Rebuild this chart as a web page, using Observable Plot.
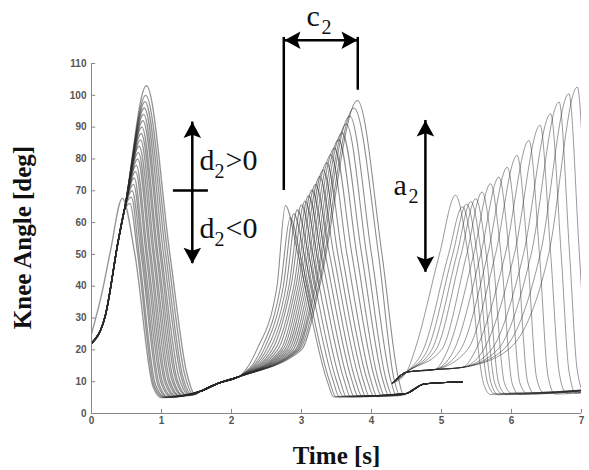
<!DOCTYPE html>
<html><head><meta charset="utf-8">
<script src="https://cdn.jsdelivr.net/npm/d3@7"></script>
<script src="https://cdn.jsdelivr.net/npm/@observablehq/plot@0.6"></script>
<style>body{margin:0;background:#fff} svg{display:block}</style>
</head><body><div id="chart"></div>
<script>
// ---- axes ----
const xTicks = [0, 1, 2, 3, 4, 5, 6, 7];
const yTicks = [0, 10, 20, 30, 40, 50, 60, 70, 80, 90, 100, 110];

// ---- cycle 1 (d2 family) ----
const c1SharedRise = [[0, 22], [0.2, 31], [0.38, 54], [0.47, 64]];
const c1OutlierRise = [[0, 25], [0.15, 38], [0.27, 51]];
const c1PeakT = [0.44, 0.55, 0.57, 0.58, 0.60, 0.61, 0.63, 0.64, 0.66, 0.67, 0.68, 0.70, 0.71, 0.72, 0.735, 0.745, 0.755, 0.765, 0.775, 0.785];
const c1PeakY = [67.6, 66, 68, 70, 72, 74, 76, 78, 80, 82, 84, 86, 88, 90, 92, 94, 96, 98, 100, 103];
const c1Down50T = [0.62, 0.66, 0.68, 0.71, 0.73, 0.75, 0.78, 0.80, 0.83, 0.85, 0.88, 0.90, 0.93, 0.95, 0.98, 1.00, 1.03, 1.06, 1.09, 1.12];
const c1EndT = [0.88, 0.90, 0.92, 0.95, 0.97, 1.00, 1.02, 1.05, 1.07, 1.10, 1.12, 1.15, 1.17, 1.20, 1.22, 1.25, 1.28, 1.30, 1.33, 1.36];
const c1EndY = [8.4, 8.4, 8.6, 8.8, 9.0, 9.2, 9.4, 9.6, 9.8, 10.0, 10.2, 10.4, 10.6, 10.8, 11.0, 11.3, 11.6, 12.0, 12.4, 12.8];
const c1BotT = [1.00, 1.03, 1.06, 1.08, 1.10, 1.13, 1.16, 1.19, 1.22, 1.25, 1.27, 1.30, 1.32, 1.35, 1.37, 1.40, 1.42, 1.44, 1.46, 1.48];
const c1BotY = [5.0, 5.1, 5.0, 5.2, 5.1, 5.3, 5.2, 5.4, 5.3, 5.5, 5.4, 5.6, 5.5, 5.7, 5.6, 5.8, 5.7, 5.9, 6.0, 6.0];
const stance12 = [[1.56, 7], [1.8, 9.4], [2.1, 11.5]];

// ---- cycle 2 (c2 family) ----
const c2Up20T = [2.36, 2.42, 2.46, 2.50, 2.54, 2.58, 2.62, 2.66, 2.70, 2.73, 2.76, 2.79, 2.82, 2.85, 2.88, 2.91, 2.93, 2.95, 2.97, 3.00];
const c2Up40T = [2.65, 2.70, 2.74, 2.78, 2.82, 2.85, 2.89, 2.92, 2.95, 2.98, 3.01, 3.04, 3.07, 3.10, 3.13, 3.16, 3.19, 3.21, 3.24, 3.26];
const c2PeakT = [2.77, 2.84, 2.89, 2.94, 3.00, 3.05, 3.10, 3.15, 3.20, 3.26, 3.31, 3.36, 3.42, 3.47, 3.53, 3.58, 3.64, 3.69, 3.75, 3.80];
const c2PeakY = [65.4, 61.6, 62.8, 64.0, 65.6, 66.8, 68.4, 70.2, 72.0, 74.5, 76.5, 78.8, 81.3, 83.4, 86.0, 88.2, 91.0, 93.5, 96.0, 98.4];
const c2Down50T = [2.95, 2.98, 3.04, 3.10, 3.16, 3.22, 3.28, 3.34, 3.40, 3.46, 3.52, 3.58, 3.65, 3.72, 3.79, 3.86, 3.93, 4.00, 4.10, 4.15];
const c2EndT = [3.37, 3.40, 3.45, 3.50, 3.55, 3.61, 3.66, 3.72, 3.77, 3.83, 3.88, 3.94, 3.99, 4.05, 4.10, 4.16, 4.21, 4.27, 4.32, 4.38];
const c2EndY = [10.0, 10.2, 10.4, 10.3, 10.5, 10.4, 10.6, 10.4, 10.5, 10.3, 10.6, 10.4, 10.5, 10.7, 10.4, 10.6, 10.5, 10.8, 11.0, 11.5];
const c2BotT = [3.46, 3.49, 3.54, 3.59, 3.64, 3.70, 3.75, 3.81, 3.86, 3.92, 3.97, 4.03, 4.08, 4.14, 4.19, 4.25, 4.30, 4.36, 4.41, 4.46];
const c2BotY = [5.2, 5.3, 5.2, 5.4, 5.3, 5.2, 5.4, 5.3, 5.5, 5.3, 5.4, 5.5, 5.3, 5.6, 5.4, 5.5, 5.6, 5.5, 5.7, 5.8];
const stance23 = [[4.5, 6.3], [4.75, 9.3], [5.3, 10]];

// ---- cycle 3 (a2 family) ----
const stance3 = [[4.3, 9.5], [4.5, 13], [4.9, 13.8], [5.3, 14.5]];
const c3Up20T = [4.62, 4.74, 4.80, 4.86, 4.92, 5.00, 5.09, 5.18, 5.27, 5.37, 5.49, 5.60, 5.71, 5.80, 5.88, 5.95];
const c3Up50T = [4.97, 5.10, 5.16, 5.22, 5.28, 5.36, 5.46, 5.56, 5.66, 5.77, 5.91, 6.04, 6.17, 6.28, 6.41, 6.53];
const c3PeakT = [5.20, 5.30, 5.36, 5.42, 5.49, 5.58, 5.70, 5.82, 5.94, 6.08, 6.25, 6.41, 6.56, 6.68, 6.82, 6.94];
const c3PeakY = [68.6, 65.0, 65.8, 66.6, 67.5, 69.6, 72.2, 74.3, 77.4, 81.1, 85.8, 90.6, 94.2, 97.9, 100.5, 102.6];
const c3Down50T = [5.38, 5.45, 5.51, 5.57, 5.64, 5.73, 5.85, 5.97, 6.09, 6.23, 6.40, 6.56, 6.71, 6.83, 6.97, 7.09];
const c3EndT = [5.60, 5.66, 5.71, 5.76, 5.82, 5.90, 6.01, 6.12, 6.23, 6.36, 6.52, 6.68, 6.82, 6.94, 7.08, 7.20];
const c3EndY = [9.5, 9.5, 9.4, 9.6, 9.3, 9.5, 9.4, 9.6, 10, 11, 12, 13, 13.5, 13.5, 13.5, 13.5];
const c3BotT = [5.70, 5.76, 5.81, 5.86, 5.92, 6.00, 6.11, 6.22, 6.33, 6.46, 6.62, 6.78, 6.92, 7.04, 7.18, 7.30];
const c3BotY = [6.0, 6.2, 5.9, 6.3, 6.1, 6.4, 6.0, 6.3, 6.2, 6.5, 6.1, 6.4, 6.3, 6.6, 6.4, 6.5];
const tail3 = [[7.4, 8]];

// ---- annotations (data units) ----
const vArrows = [{x: 1.44, y1: 47.1, y2: 91.6}, {x: 4.77, y1: 44.4, y2: 92.1}];
const d2Bar = [{x1: 1.17, x2: 1.67, y: 70.1}];
const c2Arrow = [{x1: 2.757, x2: 3.80, y: 117.3}];
const c2Legs = [{x: 2.747, y1: 70.1, y2: 118.2}, {x: 3.804, y1: 101.6, y2: 118.2}];
const labels = [
  {x: 1.543, y: 76.4, main: "d", sub: "2", rest: ">0"},
  {x: 1.543, y: 55.3, main: "d", sub: "2", rest: "<0"},
  {x: 3.07, y: 121.8, main: "c", sub: "2", rest: ""},
  {x: 4.314, y: 68.6, main: "a", sub: "2", rest: ""}
];

// ---- build curve tables ----
function table(cycle) { return []; }
const rows1 = [], rows2 = [], rows3 = [];
function addCurve(rows, id, pts) { for (const [x, y] of pts) rows.push({id, x, y}); }
c1PeakT.forEach((_, k) => {
  const rise = k === 0 ? c1OutlierRise : c1SharedRise;
  addCurve(rows1, "c1-" + k, [...rise, [c1PeakT[k], c1PeakY[k]], [c1Down50T[k], 50],
    [c1EndT[k], c1EndY[k]], [c1BotT[k], c1BotY[k]], ...stance12]);
});
c2PeakT.forEach((_, k) => {
  addCurve(rows2, "c2-" + k, [...stance12, [c2Up20T[k], 20], [c2Up40T[k], 40], [c2PeakT[k], c2PeakY[k]],
    [c2Down50T[k], 50], [c2EndT[k], c2EndY[k]], [c2BotT[k], c2BotY[k]], ...stance23]);
});
c3PeakT.forEach((_, k) => {
  const head = stance3.filter(p => p[0] < c3Up20T[k] - 0.1);
  addCurve(rows3, "c3-" + k, [...head, [c3Up20T[k], 20], [c3Up50T[k], 50], [c3PeakT[k], c3PeakY[k]],
    [c3Down50T[k], 50], [c3EndT[k], c3EndY[k]], [c3BotT[k], c3BotY[k]], ...tail3]);
});

// ---- arrowhead symbols (tip at origin) ----
function head(dx, dy) {
  return {draw(ctx, size) {
    const L = Math.sqrt(size / Math.PI), w = 0.55 * L, n = 0.8 * L;
    const bx = -dx, by = -dy, px = -by, py = bx;
    ctx.moveTo(0, 0);
    ctx.lineTo(bx * L + px * w, by * L + py * w);
    ctx.lineTo(bx * n, by * n);
    ctx.lineTo(bx * L - px * w, by * L - py * w);
    ctx.closePath();
  }};
}
const upHead = head(0, -1), downHead = head(0, 1), leftHead = head(-1, 0), rightHead = head(1, 0);

const serif = "'Liberation Serif', 'Times New Roman', serif";
const sans = "'Liberation Sans', Arial, sans-serif";
const lineOpts = {x: "x", y: "y", z: "id", curve: "monotone-x", stroke: "#2a2a2a", clip: true};

const chart = Plot.plot({
  width: 589, height: 470,
  marginLeft: 91, marginRight: 8, marginTop: 63, marginBottom: 57,
  x: {domain: [0, 7], axis: null},
  y: {domain: [0, 110], axis: null},
  style: {background: "white", overflow: "visible"},
  marks: [
    Plot.line(rows1, {...lineOpts, strokeWidth: 1.35, strokeOpacity: 0.5}),
    Plot.line(rows2, {...lineOpts, strokeWidth: 1.05, strokeOpacity: 0.55}),
    Plot.line(rows3, {...lineOpts, strokeWidth: 0.8, strokeOpacity: 0.6}),
    Plot.ruleY([0], {stroke: "#888", strokeWidth: 1}),
    Plot.ruleX([0], {stroke: "#888", strokeWidth: 1}),
    Plot.ruleX(xTicks, {x: d => d, y1: 0, y2: 1.3, stroke: "#888"}),
    Plot.ruleY(yTicks, {y: d => d, x1: 0, x2: 0.06, stroke: "#888"}),
    Plot.text(xTicks, {x: d => d, y: 0, dy: 3, lineAnchor: "top", text: d => String(d),
      fontSize: 10, fontWeight: "bold", fontFamily: sans, fill: "#555"}),
    Plot.text(yTicks, {x: 0, y: d => d, dx: -5, textAnchor: "end", text: d => String(d),
      fontSize: 10, fontWeight: "bold", fontFamily: sans, fill: "#555"}),
    Plot.text(["Knee Angle [deg]"], {frameAnchor: "left", dx: -69, dy: -1, rotate: -90,
      textAnchor: "middle", lineAnchor: "middle",
      fontSize: 25, fontWeight: "bold", fontFamily: serif, fill: "#111"}),
    Plot.text(["Time [s]"], {frameAnchor: "bottom", dy: 50, textAnchor: "middle", lineAnchor: "bottom",
      fontSize: 25, fontWeight: "bold", fontFamily: serif, fill: "#111"}),
    // annotations
    Plot.ruleX(vArrows, {x: "x", y1: "y1", y2: "y2", stroke: "black", strokeWidth: 2.5}),
    Plot.dot(vArrows, {x: "x", y: "y2", symbol: upHead, r: 16, fill: "black", stroke: "none"}),
    Plot.dot(vArrows, {x: "x", y: "y1", symbol: downHead, r: 16, fill: "black", stroke: "none"}),
    Plot.ruleY(d2Bar, {x1: "x1", x2: "x2", y: "y", stroke: "black", strokeWidth: 2.5}),
    Plot.ruleY(c2Arrow, {x1: "x1", x2: "x2", y: "y", stroke: "black", strokeWidth: 2.5}),
    Plot.dot(c2Arrow, {x: "x1", y: "y", symbol: leftHead, r: 16, fill: "black", stroke: "none"}),
    Plot.dot(c2Arrow, {x: "x2", y: "y", symbol: rightHead, r: 16, fill: "black", stroke: "none"}),
    Plot.ruleX(c2Legs, {x: "x", y1: "y1", y2: "y2", stroke: "black", strokeWidth: 2.5}),
    Plot.text(labels, {x: "x", y: "y", text: "main", textAnchor: "start", lineAnchor: "bottom",
      fontSize: 30, fontFamily: serif, fill: "#111"}),
    Plot.text(labels, {x: "x", y: "y", text: "sub", textAnchor: "start", lineAnchor: "bottom",
      dx: 15, dy: 8, fontSize: 20, fontFamily: serif, fill: "#111"}),
    Plot.text(labels, {x: "x", y: "y", text: "rest", textAnchor: "start", lineAnchor: "bottom",
      dx: 26, fontSize: 30, fontFamily: serif, fill: "#111"})
  ]
});
document.getElementById("chart").appendChild(chart);
</script>
</body></html>
